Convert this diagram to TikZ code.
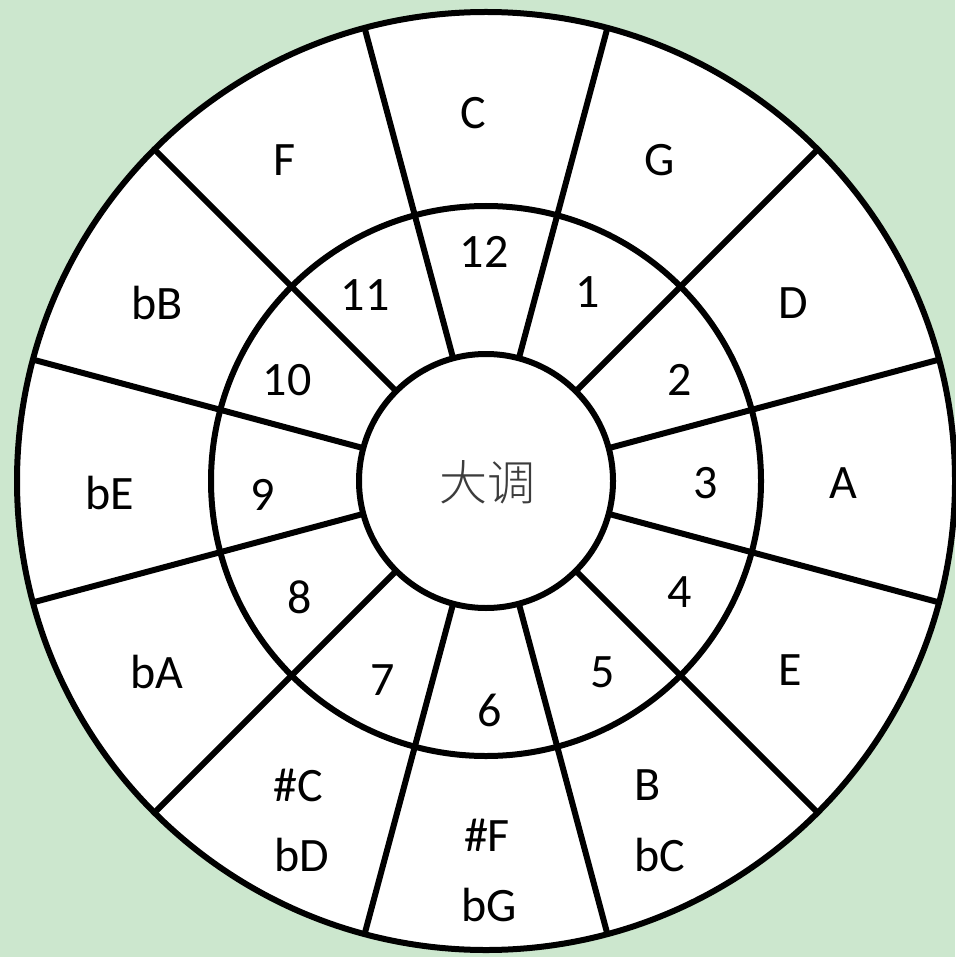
\documentclass[tikz,border=0pt]{standalone}
\usepackage{fontspec}
\setmainfont{Carlito}
\newfontfamily\cjkfont{Noto Sans CJK SC Light}
\usetikzlibrary{calc}
\definecolor{bggreen}{RGB}{204,231,206}
\definecolor{cjkgray}{RGB}{60,60,60}
\tikzset{
  ringline/.style={line width=6pt, draw=black},
  lbl/.style={inner sep=0pt, anchor=center, font=\fontsize{48}{52}\selectfont},
  cjklbl/.style={inner sep=0pt, anchor=center, text=cjkgray, font=\cjkfont\fontsize{48}{52}\selectfont}
}
\begin{document}
\begin{tikzpicture}[x=1pt,y=-1pt]
\fill[bggreen] (0,0) rectangle (955,957);
\useasboundingbox (0,0) rectangle (955,957);
\coordinate (O) at (486,481);
\fill[white] (O) circle[radius=469pt];
% spokes
\foreach \a in {15,45,...,345} {
  \draw[ringline] ($(O)+(\a:127pt)$) -- ($(O)+(\a:469pt)$);
}
\draw[ringline] (O) circle[radius=469pt];
\draw[ringline] (O) circle[radius=275pt];
\draw[ringline] (O) circle[radius=127pt];
% outer ring labels
\node[lbl] (kC) at (473,113) {C};
\node[lbl] (kG) at (660,160) {G};
\node[lbl] (kD) at (793,303) {D};
\node[lbl] (kA) at (843,483) {A};
\node[lbl] (kE) at (790,670) {E};
\node[lbl] (kB) at (648,785) {B};
\node[lbl] (kbC) at (660,855) {bC};
\node[lbl] (kFs) at (487,835) {\#F};
\node[lbl] (kbG) at (489,905) {bG};
\node[lbl] (kCs) at (298,785) {\#C};
\node[lbl] (kbD) at (302,855) {bD};
\node[lbl] (kbA) at (157,672) {bA};
\node[lbl] (kbE) at (110,493) {bE};
\node[lbl] (kbB) at (157,303) {bB};
\node[lbl] (kF) at (285,160) {F};
% numbers
\node[lbl] (n12) at (484,252) {12};
\node[lbl] (n1) at (588,292) {1};
\node[lbl] (n2) at (680,380) {2};
\node[lbl] (n3) at (706,483) {3};
\node[lbl] (n4) at (680,592) {4};
\node[lbl] (n5) at (603,672) {5};
\node[lbl] (n6) at (490,710) {6};
\node[lbl] (n7) at (383,680) {7};
\node[lbl] (n8) at (300,597) {8};
\node[lbl] (n9) at (263,495) {9};
\node[lbl] (n10) at (287,380) {10};
\node[lbl] (n11) at (365,295) {11};
% center
\node[cjklbl] (center) at (487,482) {大调};
\end{tikzpicture}
\end{document}
